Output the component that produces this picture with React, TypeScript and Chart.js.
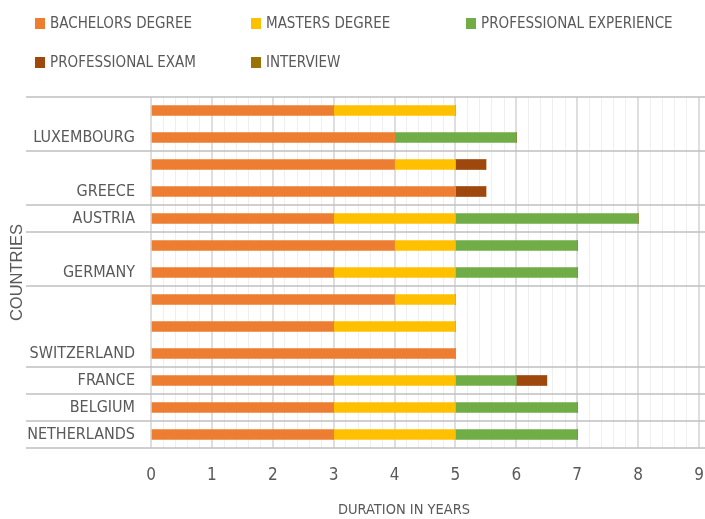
import React, { useEffect, useRef } from 'react';
import { Chart, registerables } from 'chart.js';

Chart.register(...registerables);

const categories = ['', 'LUXEMBOURG', '', 'GREECE', 'AUSTRIA', '', 'GERMANY', '', '', 'SWITZERLAND', 'FRANCE', 'BELGIUM', 'NETHERLANDS'];
const seriesNames = ['BACHELORS DEGREE', 'MASTERS DEGREE', 'PROFESSIONAL EXPERIENCE', 'PROFESSIONAL EXAM', 'INTERVIEW'];
const seriesColors = ['#ED7D31', '#FFC000', '#70AD47', '#9E480E', '#997300'];
const bachelors = [3, 4, 4, 5, 3, 4, 3, 4, 3, 5, 3, 3, 3];
const masters = [2, 0, 1, 0, 2, 1, 2, 1, 2, 0, 2, 2, 2];
const experience = [0, 2, 0, 0, 3, 2, 2, 0, 0, 0, 1, 2, 2];
const exam = [0, 0, 0.5, 0.5, 0, 0, 0, 0, 0, 0, 0.5, 0, 0];
const interview = [0, 0, 0, 0, 0, 0, 0, 0, 0, 0, 0, 0, 0];
const seriesValues = [bachelors, masters, experience, exam, interview];
const xMin = 0;
const xMax = 9;
const xMinorStep = 0.2;
const xTitle = 'DURATION IN YEARS';
const yTitle = 'COUNTRIES';

const FONT = "'Liberation Sans Narrow', 'Arial Narrow', 'DejaVu Sans Condensed', 'Roboto Condensed', 'Liberation Sans', sans-serif";
const WIDE_FONT = "'Liberation Sans', Arial, sans-serif";
const TEXT = '#595959';

const isInt = (v: number) => Math.abs(v - Math.round(v)) < 1e-6;

const separatorPlugin = {
  id: 'groupSeparators',
  afterDraw(chart: any) {
    const y = chart.scales.y;
    const ctx = chart.ctx;
    const n = categories.length;
    const step = n > 1 ? y.getPixelForValue(1) - y.getPixelForValue(0) : 0;
    const ys: number[] = [y.getPixelForValue(0) - step / 2];
    categories.forEach((c, i) => {
      if (c !== '') ys.push(y.getPixelForValue(i) + step / 2);
    });
    ctx.save();
    ctx.strokeStyle = '#bfbfbf';
    ctx.lineWidth = 1.5;
    ys.forEach((py) => {
      ctx.beginPath();
      ctx.moveTo(26, py);
      ctx.lineTo(chart.width, py);
      ctx.stroke();
    });
    // x axis title (Excel-style placement, slightly left of plot centre)
    ctx.fillStyle = TEXT;
    ctx.font = `14.5px ${FONT}`;
    ctx.textAlign = 'center';
    ctx.textBaseline = 'middle';
    ctx.fillText(xTitle, 404, 510);
    ctx.restore();
  },
};

export default function App() {
  const ref = useRef<HTMLCanvasElement | null>(null);

  useEffect(() => {
    if (!ref.current) return;
    const chart = new Chart(ref.current, {
      type: 'bar',
      data: {
        labels: categories,
        datasets: seriesNames.map((name, i) => ({
          label: name,
          data: seriesValues[i],
          backgroundColor: seriesColors[i],
          borderWidth: 0,
          barThickness: 10,
        })),
      },
      options: {
        indexAxis: 'y',
        responsive: false,
        animation: false,
        layout: { padding: { top: 97, right: 6, left: 0, bottom: 0 } },
        plugins: {
          legend: { display: false },
          tooltip: { enabled: false },
        },
        scales: {
          x: {
            type: 'linear',
            stacked: true,
            min: xMin,
            max: xMax,
            border: { display: false },
            grid: {
              drawTicks: false,
              color: (c: any) => (c.tick && isInt(c.tick.value) ? '#dedede' : '#efefef'),
              lineWidth: (c: any) => (c.tick && isInt(c.tick.value) ? 2 : 1),
            },
            ticks: {
              stepSize: xMinorStep,
              autoSkip: false,
              maxRotation: 0,
              padding: 17,
              color: TEXT,
              font: { family: FONT, size: 17 },
              callback: (v: any) => (isInt(Number(v)) ? String(Math.round(Number(v))) : ''),
            },
            title: { display: false, text: xTitle },
            afterFit: (s: any) => {
              s.height = 71;
              s.paddingLeft = 0;
              s.paddingRight = 0;
            },
          },
          y: {
            type: 'category',
            stacked: true,
            border: { display: false },
            grid: { display: false, drawTicks: false },
            ticks: {
              padding: 16,
              color: TEXT,
              autoSkip: false,
              font: { family: FONT, size: 16 },
            },
            title: {
              display: true,
              text: yTitle,
              color: TEXT,
              font: { family: WIDE_FONT, size: 16.5 },
              padding: { top: 8, bottom: 0 },
            },
            afterFit: (s: any) => {
              s.width = 151;
            },
          },
        },
      },
      plugins: [separatorPlugin],
    } as any);
    return () => chart.destroy();
  }, []);

  return (
    <div style={{ position: 'absolute', left: 0, top: 0, width: 705, height: 519, background: '#fff' }}>
      <canvas ref={ref} width={705} height={519} style={{ display: 'block' }} />
      <div
        style={{
          position: 'absolute',
          left: 35,
          top: 13,
          display: 'grid',
          gridTemplateColumns: '216px 215px 216px',
          rowGap: 19,
          fontFamily: FONT,
          fontSize: 15,
          color: TEXT,
          lineHeight: '20px',
        }}
      >
        {seriesNames.map((name, i) => (
          <div key={name} style={{ display: 'flex', alignItems: 'center', whiteSpace: 'nowrap' }}>
            <span style={{ display: 'inline-block', width: 10, height: 11, background: seriesColors[i], marginRight: 5 }} />
            <span>{name}</span>
          </div>
        ))}
      </div>
    </div>
  );
}
